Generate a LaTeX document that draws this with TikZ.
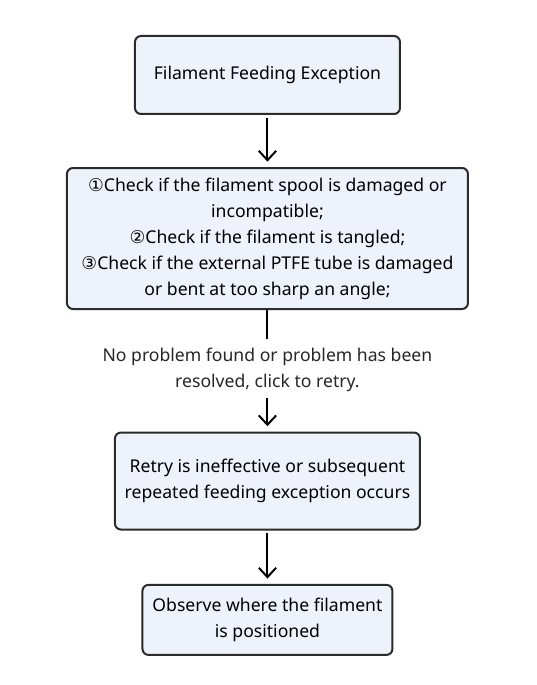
\documentclass[tikz,border=0pt]{standalone}
\usepackage{fontspec}
\setmainfont{Noto Sans}
\newfontfamily\circfont{DejaVu Sans}
\usetikzlibrary{arrows.meta,positioning}
\definecolor{boxfill}{HTML}{EEF2FB}
\definecolor{boxline}{HTML}{2B2B2B}
\tikzset{
    %Define standard arrow tip
    >={Straight Barb[length=7pt,width=13pt]},
    font=\fontsize{13.2}{19.5}\selectfont,
    %Define style for boxes
    kasten/.style={
           rectangle,
           rounded corners=4.5pt,
           draw=boxline, line width=1.5pt,
           fill=boxfill,
           align=center},
    % Define arrow style
    pfeil/.style={
           ->,
           line width=1.5pt,
           shorten <=2pt,
           shorten >=4pt},
    % Define style for plain text
    hinweis/.style={align=center, inner sep=0pt, text=black!85}
}
\begin{document}
\begin{tikzpicture}
  \useasboundingbox (-200.6pt,56.25pt) rectangle (201.4pt,-457.5pt);
  \node[kasten, minimum width=198.75pt, minimum height=58.5pt] (start) {Filament Feeding Exception};
  \node[kasten, minimum width=300.75pt, minimum height=105.75pt, below=39pt of start] (pruefen)
    {{\circfont ①}Check if the filament spool is damaged or\\ incompatible;\\
     {\circfont ②}Check if the filament is tangled;\\
     {\circfont ③}Check if the external PTFE tube is damaged\\ or bent at too sharp an angle;};
  \node[hinweis, below=28pt of pruefen] (retry)
    {No problem found or problem has been\\ resolved, click to retry.};
  \node[kasten, minimum width=228.75pt, minimum height=72.75pt, below=30pt of retry] (fehler)
    {Retry is ineffective or subsequent\\ repeated feeding exception occurs};
  \node[kasten, minimum width=187.5pt, minimum height=52.5pt, below=40pt of fehler] (pruefpos)
    {Observe where the filament\\ is positioned};
  \draw[pfeil] (start) -- (pruefen);
  \draw[line width=1.5pt, shorten >=6pt] (pruefen) -- (retry);
  \draw[pfeil, shorten <=5pt] (retry) -- (fehler);
  \draw[pfeil] (fehler) -- (pruefpos);
\end{tikzpicture}
\end{document}
